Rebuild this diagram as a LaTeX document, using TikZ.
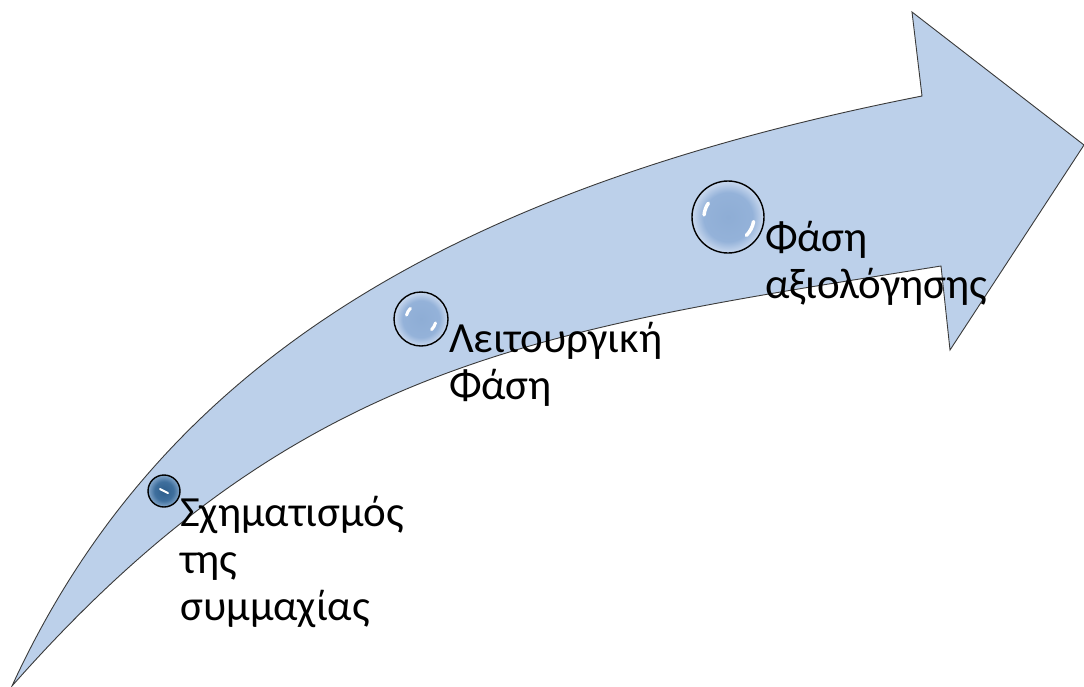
\documentclass[tikz,border=0pt]{standalone}
\usepackage{fontspec}
\setmainfont{Carlito}
\begin{document}
\begin{tikzpicture}[x=1pt,y=-1pt,
  arrowbody/.style={fill=arrowfill, draw=arrowline, line width=0.9pt, line join=miter},
  bubble/.style={circle, draw=black, line width=1.4pt, inner sep=0pt, shading=bubshade},
  darkbubble/.style={circle, draw=black, line width=1.4pt, inner sep=0pt, shading=dbubshade},
  shine/.style={white, line cap=round},
  label/.style={anchor=north west, inner sep=0pt, align=left, font=\fontsize{43}{47}\selectfont}]
\definecolor{arrowfill}{HTML}{BCD0EA}
\definecolor{arrowline}{HTML}{3A3A3A}
\definecolor{bubin}{HTML}{8EADD5}
\definecolor{bubmid}{HTML}{94B2D9}
\definecolor{bubout}{HTML}{C3D4EC}
\definecolor{dbubin}{HTML}{2E5E8C}
\definecolor{dbubmid}{HTML}{3F6F9D}
\definecolor{dbubout}{HTML}{7EA2C7}
\pgfdeclareradialshading{bubshade}{\pgfpoint{0bp}{0bp}}{color(0bp)=(bubin); color(17bp)=(bubmid); color(24bp)=(bubout); color(25bp)=(bubout); color(50bp)=(bubout)}
\pgfdeclareradialshading{dbubshade}{\pgfpoint{0bp}{0bp}}{color(0bp)=(dbubin); color(15bp)=(dbubmid); color(24bp)=(dbubout); color(25bp)=(dbubout); color(50bp)=(dbubout)}
\useasboundingbox (0,0) rectangle (1084,686);
% curved arrow
\draw[arrowbody] (12,686) .. controls (155,375) and (434,192) .. (922,96)
  -- (912,12) -- (1084,145) -- (950,350) -- (941,266)
  .. controls (541,330) and (300,360) .. (12,686) -- cycle;
% bubbles
\node[darkbubble, minimum size=32pt] (b1) at (164,491) {};
\node[bubble, minimum size=54pt] (b2) at (421,319) {};
\node[bubble, minimum size=72pt] (b3) at (728,217) {};
% highlights
\draw[shine, line width=2pt] ([shift={(-4,-2)}]b1.center) -- ([shift={(4,2)}]b1.center);
\draw[shine, line width=3pt] ([shift={(195:15)}]b2.center) arc[start angle=195, end angle=225, radius=15];
\draw[shine, line width=3pt] ([shift={(15:15)}]b2.center) arc[start angle=15, end angle=45, radius=15];
\draw[shine, line width=3.5pt] ([shift={(185:24)}]b3.center) arc[start angle=185, end angle=215, radius=24];
\draw[shine, line width=3.5pt] ([shift={(10:26)}]b3.center) arc[start angle=10, end angle=45, radius=26];
% labels
\node[label] (t1) at (180,496) {Σχηματισμός\\της\\συμμαχίας};
\node[label] (t2) at (449,322) {Λειτουργική\\Φάση};
\node[label] (t3) at (765,221) {Φάση\\αξιολόγησης};
\end{tikzpicture}
\end{document}
